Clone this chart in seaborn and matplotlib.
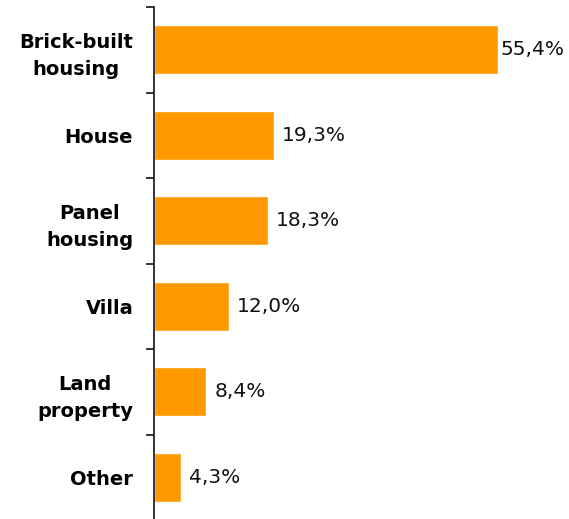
import matplotlib
matplotlib.use("Agg")
import matplotlib.pyplot as plt
import seaborn as sns
import pandas as pd
import numpy as np

# Share of property types
categories = ["Brick-built\nhousing", "House", "Panel\nhousing", "Villa", "Land\nproperty", "Other"]
shares = [55.4, 19.3, 18.3, 12.0, 8.4, 4.3]

df = pd.DataFrame({"category": categories, "share": shares})

sns.set_theme(style="white")
plt.rcParams["font.family"] = ["DejaVu Sans"]

W, H = 569, 519
fig = plt.figure(figsize=(W / 100, H / 100), dpi=100)
ax = fig.add_axes([154 / W, -1 / H, 1 - 154 / W, (520 - 7) / H])

sns.barplot(data=df, x="share", y="category", color="#FF9900", saturation=1,
            width=0.57, orient="h", ax=ax)

n = len(categories)
ax.set_xlim(0, 415 / 6.21)
ax.set_ylim(n - 0.5, -0.5)

for side in ["top", "right", "bottom"]:
    ax.spines[side].set_visible(False)
ax.spines["left"].set_color("#111111")
ax.spines["left"].set_linewidth(1.2)

ax.set_xticks([])
ax.set_xlabel("")
ax.set_ylabel("")

# Major ticks between categories, labels centred on the bars
ax.set_yticks(np.arange(-0.5, n, 1.0))
ax.set_yticklabels([])
ax.tick_params(axis="y", which="major", length=6, width=1.2, color="#111111", left=True)
ax.set_yticks(np.arange(n), minor=True)
ax.set_yticklabels(categories, minor=True, fontsize=14, fontweight="bold",
                   color="#000000", multialignment="center", linespacing=1.55)
ax.tick_params(axis="y", which="minor", length=0, pad=15)

fig.canvas.draw()
renderer = fig.canvas.get_renderer()
for i, v in enumerate(shares):
    label = f"{v:.1f}%".replace(".", ",")
    t = ax.annotate(label, xy=(v, i), xytext=(6, 0), textcoords="offset points",
                    va="center", ha="left", fontsize=14.5, color="#111111")
    bb = t.get_window_extent(renderer)
    if bb.x1 > W - 4:
        shift = (bb.x1 - (W - 4)) * 72 / fig.dpi
        t.set_position((max(6 - shift, 0.5), 0))

fig.savefig("out.png", dpi=100)
